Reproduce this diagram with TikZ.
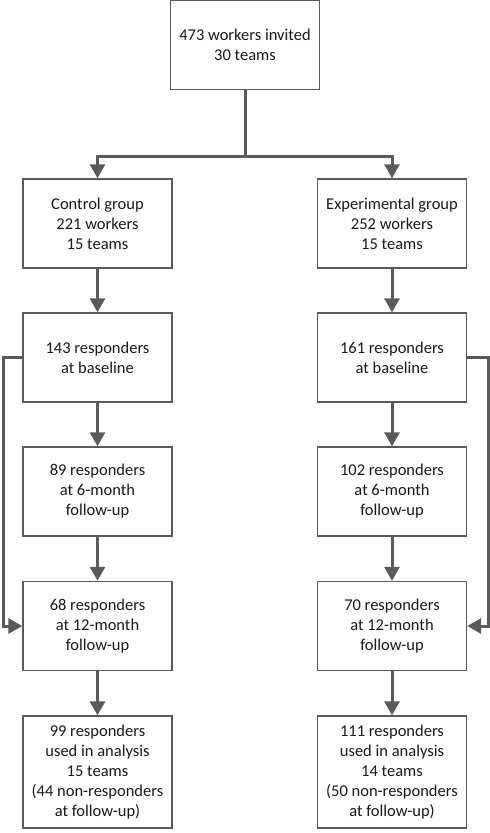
\documentclass[tikz,border=0pt]{standalone}
\usepackage{fontspec}
\setmainfont{Carlito}
\usetikzlibrary{arrows.meta}
\definecolor{linegray}{HTML}{5A5A5A}
\begin{document}
\begin{tikzpicture}[x=1pt,y=-1pt,
  box/.style={draw=linegray,line width=1.4pt,fill=white,minimum width=149pt,minimum height=89pt,
    align=center,inner sep=0pt,font=\fontsize{16.5}{20}\selectfont,text=black!90},
  conn/.style={draw=linegray,line width=3pt,-{Triangle[length=14pt,width=15pt]}},
  link/.style={draw=linegray,line width=3pt}]
\useasboundingbox (0,0) rectangle (490,833);
\node[box] (top) at (245,45) {473 workers invited\\30 teams};
\node[box] (c0) at (97.5,223.5) {Control group\\221 workers\\15 teams};
\node[box] (e0) at (392,223.5) {Experimental group\\252 workers\\15 teams};
\node[box] (c1) at (97.5,357.5) {143 responders\\at baseline};
\node[box] (e1) at (392,357.5) {161 responders\\at baseline};
\node[box] (c2) at (97.5,491.5) {89 responders\\at 6-month\\follow-up};
\node[box] (e2) at (392,491.5) {102 responders\\at 6-month\\follow-up};
\node[box] (c3) at (97.5,626) {68 responders\\at 12-month\\follow-up};
\node[box] (e3) at (392,626) {70 responders\\at 12-month\\follow-up};
\node[box,minimum height=112pt] (c4) at (97.5,772) {99 responders\\used in analysis\\15 teams\\(44 non-responders\\at follow-up)};
\node[box,minimum height=112pt] (e4) at (392,772) {111 responders\\used in analysis\\14 teams\\(50 non-responders\\at follow-up)};
\coordinate (split) at (245,156);
\draw[link] (top.south) -- (split);
\draw[conn] (split) -| (c0.north);
\draw[conn] (split) -| (e0.north);
\draw[conn] (c0) -- (c1);
\draw[conn] (e0) -- (e1);
\draw[conn] (c1) -- (c2);
\draw[conn] (e1) -- (e2);
\draw[conn] (c2) -- (c3);
\draw[conn] (e2) -- (e3);
\draw[conn] (c3) -- (c4);
\draw[conn] (e3) -- (e4);
\coordinate (lx) at (3,0);
\coordinate (rx) at (488,0);
\draw[conn] (c1.west) -- (c1.west -| lx) -- (c3.west -| lx) -- (c3.west);
\draw[conn] (e1.east) -- (e1.east -| rx) -- (e3.east -| rx) -- (e3.east);
\end{tikzpicture}
\end{document}
